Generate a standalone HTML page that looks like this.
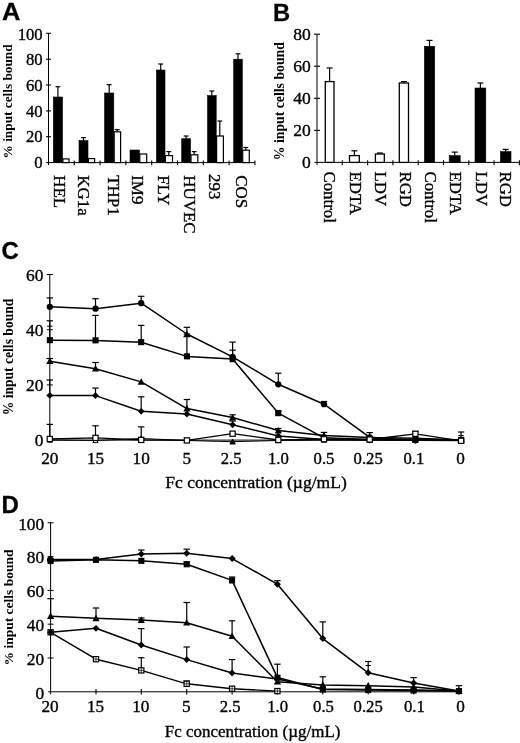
<!DOCTYPE html>
<html><head><meta charset="utf-8"><title>Figure</title>
<style>
html,body{margin:0;padding:0;background:#fff;}
body{width:520px;height:743px;overflow:hidden;font-family:"Liberation Serif",serif;}
svg{display:block;filter:grayscale(1);}
svg text{fill:#000;}
</style></head><body>
<svg width="520" height="743" viewBox="0 0 520 743">
<rect x="0" y="0" width="520" height="743" fill="#fff"/>
<text x="0" y="0" font-family="'Liberation Sans', sans-serif" font-size="24" font-weight="bold" text-anchor="start" transform="translate(2.0 19.8) rotate(0) scale(1.06 1)" stroke="#000" stroke-width="0.3">A</text>
<line x1="48.5" y1="33.4" x2="48.5" y2="165.1" stroke="#000" stroke-width="1.0"/>
<line x1="46.0" y1="162.6" x2="254.8" y2="162.6" stroke="#000" stroke-width="1.0"/>
<text x="0" y="0" font-family="'Liberation Serif', serif" font-size="17.2" font-weight="normal" text-anchor="end" transform="translate(42.7 168.2) rotate(0) scale(0.97 1)" stroke="#000" stroke-width="0.35">0</text>
<line x1="46.0" y1="136.7" x2="51.0" y2="136.7" stroke="#000" stroke-width="1.1"/>
<text x="0" y="0" font-family="'Liberation Serif', serif" font-size="17.2" font-weight="normal" text-anchor="end" transform="translate(42.7 142.3) rotate(0) scale(0.97 1)" stroke="#000" stroke-width="0.35">20</text>
<line x1="46.0" y1="110.9" x2="51.0" y2="110.9" stroke="#000" stroke-width="1.1"/>
<text x="0" y="0" font-family="'Liberation Serif', serif" font-size="17.2" font-weight="normal" text-anchor="end" transform="translate(42.7 116.5) rotate(0) scale(0.97 1)" stroke="#000" stroke-width="0.35">40</text>
<line x1="46.0" y1="85.0" x2="51.0" y2="85.0" stroke="#000" stroke-width="1.1"/>
<text x="0" y="0" font-family="'Liberation Serif', serif" font-size="17.2" font-weight="normal" text-anchor="end" transform="translate(42.7 90.6) rotate(0) scale(0.97 1)" stroke="#000" stroke-width="0.35">60</text>
<line x1="46.0" y1="59.2" x2="51.0" y2="59.2" stroke="#000" stroke-width="1.1"/>
<text x="0" y="0" font-family="'Liberation Serif', serif" font-size="17.2" font-weight="normal" text-anchor="end" transform="translate(42.7 64.8) rotate(0) scale(0.97 1)" stroke="#000" stroke-width="0.35">80</text>
<line x1="46.0" y1="33.3" x2="51.0" y2="33.3" stroke="#000" stroke-width="1.1"/>
<text x="0" y="0" font-family="'Liberation Serif', serif" font-size="17.2" font-weight="normal" text-anchor="end" transform="translate(42.7 39.7) rotate(0) scale(0.97 1)" stroke="#000" stroke-width="0.35">100</text>
<text x="0" y="0" font-family="'Liberation Serif', serif" font-size="12.2" font-weight="bold" text-anchor="middle" transform="translate(11.8 101.4) rotate(-90) scale(1.09 1)">% input cells bound</text>
<line x1="74.3" y1="160.4" x2="74.3" y2="165.2" stroke="#000" stroke-width="1.1"/>
<line x1="100.1" y1="160.4" x2="100.1" y2="165.2" stroke="#000" stroke-width="1.1"/>
<line x1="125.9" y1="160.4" x2="125.9" y2="165.2" stroke="#000" stroke-width="1.1"/>
<line x1="151.7" y1="160.4" x2="151.7" y2="165.2" stroke="#000" stroke-width="1.1"/>
<line x1="177.5" y1="160.4" x2="177.5" y2="165.2" stroke="#000" stroke-width="1.1"/>
<line x1="203.3" y1="160.4" x2="203.3" y2="165.2" stroke="#000" stroke-width="1.1"/>
<line x1="229.1" y1="160.4" x2="229.1" y2="165.2" stroke="#000" stroke-width="1.1"/>
<line x1="254.9" y1="160.4" x2="254.9" y2="165.2" stroke="#000" stroke-width="1.1"/>
<line x1="57.9" y1="97.0" x2="57.9" y2="86.7" stroke="#000" stroke-width="1.2"/>
<line x1="55.5" y1="86.7" x2="60.3" y2="86.7" stroke="#000" stroke-width="1.2"/>
<rect x="53.3" y="97.0" width="9.2" height="65.6" fill="#000" stroke="#000" stroke-width="0.6"/>
<rect x="62.9" y="158.9" width="6.1" height="3.7" fill="#fff" stroke="#000" stroke-width="1.2"/>
<line x1="83.5" y1="140.5" x2="83.5" y2="137.6" stroke="#000" stroke-width="1.2"/>
<line x1="81.1" y1="137.6" x2="85.9" y2="137.6" stroke="#000" stroke-width="1.2"/>
<rect x="79.0" y="140.5" width="9.0" height="22.1" fill="#000" stroke="#000" stroke-width="0.6"/>
<rect x="88.4" y="158.6" width="6.2" height="4.0" fill="#fff" stroke="#000" stroke-width="1.2"/>
<line x1="109.2" y1="93.0" x2="109.2" y2="84.6" stroke="#000" stroke-width="1.2"/>
<line x1="106.8" y1="84.6" x2="111.6" y2="84.6" stroke="#000" stroke-width="1.2"/>
<rect x="104.6" y="93.0" width="9.2" height="69.6" fill="#000" stroke="#000" stroke-width="0.6"/>
<line x1="117.2" y1="131.8" x2="117.2" y2="129.6" stroke="#000" stroke-width="1.2"/>
<line x1="114.8" y1="129.6" x2="119.6" y2="129.6" stroke="#000" stroke-width="1.2"/>
<rect x="114.2" y="131.8" width="6.4" height="30.8" fill="#fff" stroke="#000" stroke-width="1.2"/>
<rect x="130.0" y="150.0" width="9.4" height="12.6" fill="#000" stroke="#000" stroke-width="0.6"/>
<rect x="139.8" y="154.0" width="6.9" height="8.6" fill="#fff" stroke="#000" stroke-width="1.2"/>
<line x1="160.7" y1="70.0" x2="160.7" y2="64.0" stroke="#000" stroke-width="1.2"/>
<line x1="158.3" y1="64.0" x2="163.1" y2="64.0" stroke="#000" stroke-width="1.2"/>
<rect x="156.4" y="70.0" width="8.6" height="92.6" fill="#000" stroke="#000" stroke-width="0.6"/>
<line x1="168.8" y1="155.6" x2="168.8" y2="151.6" stroke="#000" stroke-width="1.2"/>
<line x1="166.3" y1="151.6" x2="171.2" y2="151.6" stroke="#000" stroke-width="1.2"/>
<rect x="165.4" y="155.6" width="7.1" height="7.0" fill="#fff" stroke="#000" stroke-width="1.2"/>
<line x1="186.1" y1="138.7" x2="186.1" y2="136.0" stroke="#000" stroke-width="1.2"/>
<line x1="183.7" y1="136.0" x2="188.5" y2="136.0" stroke="#000" stroke-width="1.2"/>
<rect x="181.7" y="138.7" width="8.9" height="23.9" fill="#000" stroke="#000" stroke-width="0.6"/>
<line x1="194.2" y1="154.8" x2="194.2" y2="151.6" stroke="#000" stroke-width="1.2"/>
<line x1="191.8" y1="151.6" x2="196.6" y2="151.6" stroke="#000" stroke-width="1.2"/>
<rect x="191.0" y="154.8" width="6.8" height="7.8" fill="#fff" stroke="#000" stroke-width="1.2"/>
<line x1="211.8" y1="95.6" x2="211.8" y2="91.0" stroke="#000" stroke-width="1.2"/>
<line x1="209.4" y1="91.0" x2="214.2" y2="91.0" stroke="#000" stroke-width="1.2"/>
<rect x="207.5" y="95.6" width="8.7" height="67.0" fill="#000" stroke="#000" stroke-width="0.6"/>
<line x1="219.8" y1="136.0" x2="219.8" y2="121.0" stroke="#000" stroke-width="1.2"/>
<line x1="217.4" y1="121.0" x2="222.2" y2="121.0" stroke="#000" stroke-width="1.2"/>
<rect x="216.6" y="136.0" width="6.8" height="26.6" fill="#fff" stroke="#000" stroke-width="1.2"/>
<line x1="238.0" y1="59.2" x2="238.0" y2="53.8" stroke="#000" stroke-width="1.2"/>
<line x1="235.6" y1="53.8" x2="240.4" y2="53.8" stroke="#000" stroke-width="1.2"/>
<rect x="233.7" y="59.2" width="8.6" height="103.4" fill="#000" stroke="#000" stroke-width="0.6"/>
<line x1="245.8" y1="150.2" x2="245.8" y2="147.5" stroke="#000" stroke-width="1.2"/>
<line x1="243.4" y1="147.5" x2="248.2" y2="147.5" stroke="#000" stroke-width="1.2"/>
<rect x="242.7" y="150.2" width="6.6" height="12.4" fill="#fff" stroke="#000" stroke-width="1.2"/>
<text x="0" y="0" font-family="'Liberation Serif', serif" font-size="16" font-weight="normal" text-anchor="start" transform="translate(54.0 175.2) rotate(90) scale(1.06 1)" stroke="#000" stroke-width="0.35">HEL</text>
<text x="0" y="0" font-family="'Liberation Serif', serif" font-size="16" font-weight="normal" text-anchor="start" transform="translate(78.0 175.2) rotate(90) scale(1.06 1)" stroke="#000" stroke-width="0.35">KG1a</text>
<text x="0" y="0" font-family="'Liberation Serif', serif" font-size="16" font-weight="normal" text-anchor="start" transform="translate(108.0 175.2) rotate(90) scale(1.06 1)" stroke="#000" stroke-width="0.35">THP1</text>
<text x="0" y="0" font-family="'Liberation Serif', serif" font-size="16" font-weight="normal" text-anchor="start" transform="translate(132.0 175.2) rotate(90) scale(1.06 1)" stroke="#000" stroke-width="0.35">IM9</text>
<text x="0" y="0" font-family="'Liberation Serif', serif" font-size="16" font-weight="normal" text-anchor="start" transform="translate(157.8 175.2) rotate(90) scale(1.06 1)" stroke="#000" stroke-width="0.35">FLY</text>
<text x="0" y="0" font-family="'Liberation Serif', serif" font-size="16" font-weight="normal" text-anchor="start" transform="translate(183.5 175.2) rotate(90) scale(1.06 1)" stroke="#000" stroke-width="0.35">HUVEC</text>
<text x="0" y="0" font-family="'Liberation Serif', serif" font-size="16" font-weight="normal" text-anchor="start" transform="translate(208.8 174.0) rotate(90) scale(1.06 1)" stroke="#000" stroke-width="0.35">293</text>
<text x="0" y="0" font-family="'Liberation Serif', serif" font-size="16" font-weight="normal" text-anchor="start" transform="translate(235.5 175.2) rotate(90) scale(1.06 1)" stroke="#000" stroke-width="0.35">COS</text>
<text x="0" y="0" font-family="'Liberation Sans', sans-serif" font-size="24" font-weight="bold" text-anchor="start" transform="translate(273.0 20.8) rotate(0) scale(0.99 1)" stroke="#000" stroke-width="0.3">B</text>
<line x1="317.0" y1="34.2" x2="317.0" y2="164.9" stroke="#000" stroke-width="1.0"/>
<line x1="314.5" y1="162.4" x2="519.5" y2="162.4" stroke="#000" stroke-width="1.0"/>
<text x="0" y="0" font-family="'Liberation Serif', serif" font-size="17.2" font-weight="normal" text-anchor="end" transform="translate(310.8 168.0) rotate(0) scale(1.02 1)" stroke="#000" stroke-width="0.35">0</text>
<line x1="314.0" y1="130.4" x2="320.0" y2="130.4" stroke="#000" stroke-width="1.1"/>
<text x="0" y="0" font-family="'Liberation Serif', serif" font-size="17.2" font-weight="normal" text-anchor="end" transform="translate(310.8 136.0) rotate(0) scale(1.02 1)" stroke="#000" stroke-width="0.35">20</text>
<line x1="314.0" y1="98.3" x2="320.0" y2="98.3" stroke="#000" stroke-width="1.1"/>
<text x="0" y="0" font-family="'Liberation Serif', serif" font-size="17.2" font-weight="normal" text-anchor="end" transform="translate(310.8 103.9) rotate(0) scale(1.02 1)" stroke="#000" stroke-width="0.35">40</text>
<line x1="314.0" y1="66.2" x2="320.0" y2="66.2" stroke="#000" stroke-width="1.1"/>
<text x="0" y="0" font-family="'Liberation Serif', serif" font-size="17.2" font-weight="normal" text-anchor="end" transform="translate(310.8 71.8) rotate(0) scale(1.02 1)" stroke="#000" stroke-width="0.35">60</text>
<line x1="314.0" y1="34.2" x2="320.0" y2="34.2" stroke="#000" stroke-width="1.1"/>
<text x="0" y="0" font-family="'Liberation Serif', serif" font-size="17.2" font-weight="normal" text-anchor="end" transform="translate(310.8 39.8) rotate(0) scale(1.02 1)" stroke="#000" stroke-width="0.35">80</text>
<text x="0" y="0" font-family="'Liberation Serif', serif" font-size="14" font-weight="bold" text-anchor="middle" transform="translate(283.8 101.2) rotate(-90) scale(0.985 1)">% input cells bound</text>
<line x1="342.3" y1="160.2" x2="342.3" y2="165.2" stroke="#000" stroke-width="1.1"/>
<line x1="367.6" y1="160.2" x2="367.6" y2="165.2" stroke="#000" stroke-width="1.1"/>
<line x1="392.9" y1="160.2" x2="392.9" y2="165.2" stroke="#000" stroke-width="1.1"/>
<line x1="418.2" y1="160.2" x2="418.2" y2="165.2" stroke="#000" stroke-width="1.1"/>
<line x1="443.5" y1="160.2" x2="443.5" y2="165.2" stroke="#000" stroke-width="1.1"/>
<line x1="468.8" y1="160.2" x2="468.8" y2="165.2" stroke="#000" stroke-width="1.1"/>
<line x1="494.1" y1="160.2" x2="494.1" y2="165.2" stroke="#000" stroke-width="1.1"/>
<line x1="519.4" y1="160.2" x2="519.4" y2="165.2" stroke="#000" stroke-width="1.1"/>
<line x1="329.6" y1="81.6" x2="329.6" y2="68.0" stroke="#000" stroke-width="1.2"/>
<line x1="326.6" y1="68.0" x2="332.6" y2="68.0" stroke="#000" stroke-width="1.2"/>
<rect x="325.3" y="81.6" width="8.7" height="80.8" fill="#fff" stroke="#000" stroke-width="1.3"/>
<line x1="354.4" y1="155.6" x2="354.4" y2="150.8" stroke="#000" stroke-width="1.2"/>
<line x1="351.4" y1="150.8" x2="357.4" y2="150.8" stroke="#000" stroke-width="1.2"/>
<rect x="349.5" y="155.6" width="9.8" height="6.8" fill="#fff" stroke="#000" stroke-width="1.3"/>
<line x1="379.9" y1="154.0" x2="379.9" y2="153.0" stroke="#000" stroke-width="1.2"/>
<line x1="376.9" y1="153.0" x2="382.9" y2="153.0" stroke="#000" stroke-width="1.2"/>
<rect x="375.4" y="154.0" width="8.9" height="8.4" fill="#fff" stroke="#000" stroke-width="1.3"/>
<line x1="403.9" y1="83.0" x2="403.9" y2="81.6" stroke="#000" stroke-width="1.2"/>
<line x1="400.9" y1="81.6" x2="406.9" y2="81.6" stroke="#000" stroke-width="1.2"/>
<rect x="399.3" y="83.0" width="9.2" height="79.4" fill="#fff" stroke="#000" stroke-width="1.3"/>
<line x1="429.5" y1="46.3" x2="429.5" y2="40.4" stroke="#000" stroke-width="1.2"/>
<line x1="426.5" y1="40.4" x2="432.5" y2="40.4" stroke="#000" stroke-width="1.2"/>
<rect x="424.4" y="46.3" width="10.3" height="116.1" fill="#000" stroke="#000" stroke-width="0.6"/>
<line x1="454.7" y1="155.6" x2="454.7" y2="152.1" stroke="#000" stroke-width="1.2"/>
<line x1="451.7" y1="152.1" x2="457.7" y2="152.1" stroke="#000" stroke-width="1.2"/>
<rect x="449.2" y="155.6" width="11.0" height="6.8" fill="#000" stroke="#000" stroke-width="0.6"/>
<line x1="480.4" y1="88.0" x2="480.4" y2="83.0" stroke="#000" stroke-width="1.2"/>
<line x1="477.4" y1="83.0" x2="483.4" y2="83.0" stroke="#000" stroke-width="1.2"/>
<rect x="475.0" y="88.0" width="10.8" height="74.4" fill="#000" stroke="#000" stroke-width="0.6"/>
<line x1="505.7" y1="151.6" x2="505.7" y2="149.4" stroke="#000" stroke-width="1.2"/>
<line x1="502.7" y1="149.4" x2="508.7" y2="149.4" stroke="#000" stroke-width="1.2"/>
<rect x="500.4" y="151.6" width="10.6" height="10.8" fill="#000" stroke="#000" stroke-width="0.6"/>
<text x="0" y="0" font-family="'Liberation Serif', serif" font-size="16" font-weight="normal" text-anchor="start" transform="translate(324.3 171.5) rotate(90) scale(1.05 1)" stroke="#000" stroke-width="0.35">Control</text>
<text x="0" y="0" font-family="'Liberation Serif', serif" font-size="16" font-weight="normal" text-anchor="start" transform="translate(350.2 171.5) rotate(90) scale(1.05 1)" stroke="#000" stroke-width="0.35">EDTA</text>
<text x="0" y="0" font-family="'Liberation Serif', serif" font-size="16" font-weight="normal" text-anchor="start" transform="translate(374.8 171.5) rotate(90) scale(1.05 1)" stroke="#000" stroke-width="0.35">LDV</text>
<text x="0" y="0" font-family="'Liberation Serif', serif" font-size="16" font-weight="normal" text-anchor="start" transform="translate(399.8 171.5) rotate(90) scale(1.05 1)" stroke="#000" stroke-width="0.35">RGD</text>
<text x="0" y="0" font-family="'Liberation Serif', serif" font-size="16" font-weight="normal" text-anchor="start" transform="translate(425.2 171.5) rotate(90) scale(1.05 1)" stroke="#000" stroke-width="0.35">Control</text>
<text x="0" y="0" font-family="'Liberation Serif', serif" font-size="16" font-weight="normal" text-anchor="start" transform="translate(449.6 171.5) rotate(90) scale(1.05 1)" stroke="#000" stroke-width="0.35">EDTA</text>
<text x="0" y="0" font-family="'Liberation Serif', serif" font-size="16" font-weight="normal" text-anchor="start" transform="translate(475.6 171.5) rotate(90) scale(1.05 1)" stroke="#000" stroke-width="0.35">LDV</text>
<text x="0" y="0" font-family="'Liberation Serif', serif" font-size="16" font-weight="normal" text-anchor="start" transform="translate(500.2 171.5) rotate(90) scale(1.05 1)" stroke="#000" stroke-width="0.35">RGD</text>
<text x="0" y="0" font-family="'Liberation Sans', sans-serif" font-size="24" font-weight="bold" text-anchor="start" transform="translate(1.6 259.3) rotate(0) scale(1.0 1)" stroke="#000" stroke-width="0.3">C</text>
<line x1="49.8" y1="274.0" x2="49.8" y2="442.6" stroke="#000" stroke-width="1.0"/>
<line x1="47.3" y1="440.1" x2="461.1" y2="440.1" stroke="#000" stroke-width="1.0"/>
<text x="0" y="0" font-family="'Liberation Serif', serif" font-size="17.2" font-weight="normal" text-anchor="end" transform="translate(43.4 446.1) rotate(0) scale(1.01 1)" stroke="#000" stroke-width="0.35">0</text>
<line x1="46.8" y1="384.9" x2="52.8" y2="384.9" stroke="#000" stroke-width="1.0"/>
<text x="0" y="0" font-family="'Liberation Serif', serif" font-size="17.2" font-weight="normal" text-anchor="end" transform="translate(43.4 390.9) rotate(0) scale(1.01 1)" stroke="#000" stroke-width="0.35">20</text>
<line x1="46.8" y1="329.7" x2="52.8" y2="329.7" stroke="#000" stroke-width="1.0"/>
<text x="0" y="0" font-family="'Liberation Serif', serif" font-size="17.2" font-weight="normal" text-anchor="end" transform="translate(43.4 335.7) rotate(0) scale(1.01 1)" stroke="#000" stroke-width="0.35">40</text>
<line x1="46.8" y1="274.5" x2="52.8" y2="274.5" stroke="#000" stroke-width="1.0"/>
<text x="0" y="0" font-family="'Liberation Serif', serif" font-size="17.2" font-weight="normal" text-anchor="end" transform="translate(43.4 280.5) rotate(0) scale(1.01 1)" stroke="#000" stroke-width="0.35">60</text>
<text x="0" y="0" font-family="'Liberation Serif', serif" font-size="13.6" font-weight="bold" text-anchor="middle" transform="translate(13.0 357.0) rotate(-90) scale(1.0 1)">% input cells bound</text>
<text x="0" y="0" font-family="'Liberation Serif', serif" font-size="17.2" font-weight="normal" text-anchor="middle" transform="translate(49.8 463.8) rotate(0) scale(1.0 1)" stroke="#000" stroke-width="0.35">20</text>
<text x="0" y="0" font-family="'Liberation Serif', serif" font-size="17.2" font-weight="normal" text-anchor="middle" transform="translate(95.5 463.8) rotate(0) scale(1.0 1)" stroke="#000" stroke-width="0.35">15</text>
<text x="0" y="0" font-family="'Liberation Serif', serif" font-size="17.2" font-weight="normal" text-anchor="middle" transform="translate(141.2 463.8) rotate(0) scale(1.0 1)" stroke="#000" stroke-width="0.35">10</text>
<text x="0" y="0" font-family="'Liberation Serif', serif" font-size="17.2" font-weight="normal" text-anchor="middle" transform="translate(186.9 463.8) rotate(0) scale(1.0 1)" stroke="#000" stroke-width="0.35">5</text>
<text x="0" y="0" font-family="'Liberation Serif', serif" font-size="17.2" font-weight="normal" text-anchor="middle" transform="translate(231.1 463.8) rotate(0) scale(0.97 1)" stroke="#000" stroke-width="0.35">2.5</text>
<text x="0" y="0" font-family="'Liberation Serif', serif" font-size="17.2" font-weight="normal" text-anchor="middle" transform="translate(278.3 463.8) rotate(0) scale(0.97 1)" stroke="#000" stroke-width="0.35">1.0</text>
<text x="0" y="0" font-family="'Liberation Serif', serif" font-size="17.2" font-weight="normal" text-anchor="middle" transform="translate(324.0 463.8) rotate(0) scale(0.97 1)" stroke="#000" stroke-width="0.35">0.5</text>
<text x="0" y="0" font-family="'Liberation Serif', serif" font-size="17.2" font-weight="normal" text-anchor="middle" transform="translate(368.2 463.8) rotate(0) scale(0.97 1)" stroke="#000" stroke-width="0.35">0.25</text>
<text x="0" y="0" font-family="'Liberation Serif', serif" font-size="17.2" font-weight="normal" text-anchor="middle" transform="translate(413.9 463.8) rotate(0) scale(0.97 1)" stroke="#000" stroke-width="0.35">0.1</text>
<text x="0" y="0" font-family="'Liberation Serif', serif" font-size="17.2" font-weight="normal" text-anchor="middle" transform="translate(460.6 463.8) rotate(0) scale(1.0 1)" stroke="#000" stroke-width="0.35">0</text>
<text x="0" y="0" font-family="'Liberation Serif', serif" font-size="17.2" font-weight="normal" text-anchor="middle" transform="translate(256.0 488.4) rotate(0) scale(1.02 1)" stroke="#000" stroke-width="0.35">Fc concentration (µg/mL)</text>
<polyline points="49.8,440.0 95.5,440.5 141.2,438.5 186.9,440.5 232.6,441.7 278.3,440.5 324.0,440.0 369.7,440.0 415.4,440.0 461.1,440.0" fill="none" stroke="#000" stroke-width="1.0" stroke-linejoin="round"/>
<polygon points="49.8,437.4 52.4,442.1 47.2,442.1" fill="#fff" stroke="#000" stroke-width="1"/>
<polygon points="95.5,437.9 98.1,442.6 92.9,442.6" fill="#fff" stroke="#000" stroke-width="1"/>
<polygon points="141.2,435.9 143.8,440.6 138.6,440.6" fill="#fff" stroke="#000" stroke-width="1"/>
<polygon points="186.9,437.9 189.5,442.6 184.3,442.6" fill="#fff" stroke="#000" stroke-width="1"/>
<polygon points="232.6,439.1 235.2,443.8 230.0,443.8" fill="#fff" stroke="#000" stroke-width="1"/>
<polygon points="278.3,437.9 280.9,442.6 275.7,442.6" fill="#fff" stroke="#000" stroke-width="1"/>
<polygon points="324.0,437.4 326.6,442.1 321.4,442.1" fill="#fff" stroke="#000" stroke-width="1"/>
<polygon points="369.7,437.4 372.3,442.1 367.1,442.1" fill="#fff" stroke="#000" stroke-width="1"/>
<polygon points="415.4,437.4 418.0,442.1 412.8,442.1" fill="#fff" stroke="#000" stroke-width="1"/>
<polygon points="461.1,437.4 463.7,442.1 458.5,442.1" fill="#fff" stroke="#000" stroke-width="1"/>
<polyline points="49.8,395.4 95.5,395.6 141.2,411.3 186.9,414.0 232.6,424.8 278.3,436.0 324.0,439.5 369.7,440.0 415.4,440.0 461.1,440.0" fill="none" stroke="#000" stroke-width="1.5" stroke-linejoin="round"/>
<line x1="49.8" y1="395.4" x2="49.8" y2="380.0" stroke="#000" stroke-width="1.2"/>
<line x1="46.6" y1="380.0" x2="53.0" y2="380.0" stroke="#000" stroke-width="1.2"/>
<line x1="95.5" y1="395.6" x2="95.5" y2="388.1" stroke="#000" stroke-width="1.2"/>
<line x1="92.3" y1="388.1" x2="98.7" y2="388.1" stroke="#000" stroke-width="1.2"/>
<line x1="141.2" y1="411.3" x2="141.2" y2="396.8" stroke="#000" stroke-width="1.2"/>
<line x1="138.0" y1="396.8" x2="144.4" y2="396.8" stroke="#000" stroke-width="1.2"/>
<line x1="232.6" y1="424.8" x2="232.6" y2="421.0" stroke="#000" stroke-width="1.2"/>
<line x1="229.4" y1="421.0" x2="235.8" y2="421.0" stroke="#000" stroke-width="1.2"/>
<polygon points="49.8,392.0 53.2,395.4 49.8,398.8 46.4,395.4" fill="#000"/>
<polygon points="95.5,392.2 98.9,395.6 95.5,399.0 92.1,395.6" fill="#000"/>
<polygon points="141.2,407.9 144.6,411.3 141.2,414.7 137.8,411.3" fill="#000"/>
<polygon points="186.9,410.6 190.3,414.0 186.9,417.4 183.5,414.0" fill="#000"/>
<polygon points="232.6,421.4 236.0,424.8 232.6,428.2 229.2,424.8" fill="#000"/>
<polygon points="278.3,432.6 281.7,436.0 278.3,439.4 274.9,436.0" fill="#000"/>
<polygon points="324.0,436.1 327.4,439.5 324.0,442.9 320.6,439.5" fill="#000"/>
<polygon points="369.7,436.6 373.1,440.0 369.7,443.4 366.3,440.0" fill="#000"/>
<polygon points="415.4,436.6 418.8,440.0 415.4,443.4 412.0,440.0" fill="#000"/>
<polygon points="461.1,436.6 464.5,440.0 461.1,443.4 457.7,440.0" fill="#000"/>
<polyline points="49.8,361.2 95.5,368.7 141.2,381.9 186.9,408.6 232.6,417.5 278.3,430.5 324.0,435.4 369.7,437.5 415.4,438.2 461.1,440.0" fill="none" stroke="#000" stroke-width="1.5" stroke-linejoin="round"/>
<line x1="49.8" y1="361.2" x2="49.8" y2="358.5" stroke="#000" stroke-width="1.2"/>
<line x1="46.6" y1="358.5" x2="53.0" y2="358.5" stroke="#000" stroke-width="1.2"/>
<line x1="95.5" y1="368.7" x2="95.5" y2="362.5" stroke="#000" stroke-width="1.2"/>
<line x1="92.3" y1="362.5" x2="98.7" y2="362.5" stroke="#000" stroke-width="1.2"/>
<line x1="186.9" y1="408.6" x2="186.9" y2="399.5" stroke="#000" stroke-width="1.2"/>
<line x1="183.7" y1="399.5" x2="190.1" y2="399.5" stroke="#000" stroke-width="1.2"/>
<line x1="232.6" y1="417.5" x2="232.6" y2="414.8" stroke="#000" stroke-width="1.2"/>
<line x1="229.4" y1="414.8" x2="235.8" y2="414.8" stroke="#000" stroke-width="1.2"/>
<line x1="278.3" y1="430.5" x2="278.3" y2="428.5" stroke="#000" stroke-width="1.2"/>
<line x1="275.1" y1="428.5" x2="281.5" y2="428.5" stroke="#000" stroke-width="1.2"/>
<line x1="324.0" y1="435.4" x2="324.0" y2="432.4" stroke="#000" stroke-width="1.2"/>
<line x1="320.8" y1="432.4" x2="327.2" y2="432.4" stroke="#000" stroke-width="1.2"/>
<polygon points="49.8,357.6 53.4,364.1 46.2,364.1" fill="#000"/>
<polygon points="95.5,365.1 99.1,371.6 91.9,371.6" fill="#000"/>
<polygon points="141.2,378.3 144.8,384.8 137.6,384.8" fill="#000"/>
<polygon points="186.9,405.0 190.5,411.5 183.3,411.5" fill="#000"/>
<polygon points="232.6,413.9 236.2,420.4 229.0,420.4" fill="#000"/>
<polygon points="278.3,426.9 281.9,433.4 274.7,433.4" fill="#000"/>
<polygon points="324.0,431.8 327.6,438.3 320.4,438.3" fill="#000"/>
<polygon points="369.7,433.9 373.3,440.4 366.1,440.4" fill="#000"/>
<polygon points="415.4,434.6 419.0,441.1 411.8,441.1" fill="#000"/>
<polygon points="461.1,436.4 464.7,442.9 457.5,442.9" fill="#000"/>
<polyline points="49.8,340.2 95.5,340.4 141.2,342.2 186.9,356.4 232.6,359.1 278.3,413.1 324.0,437.8 369.7,439.5 415.4,440.0 461.1,440.0" fill="none" stroke="#000" stroke-width="1.5" stroke-linejoin="round"/>
<line x1="49.8" y1="340.2" x2="49.8" y2="320.8" stroke="#000" stroke-width="1.2"/>
<line x1="46.6" y1="320.8" x2="53.0" y2="320.8" stroke="#000" stroke-width="1.2"/>
<line x1="95.5" y1="340.4" x2="95.5" y2="315.4" stroke="#000" stroke-width="1.2"/>
<line x1="92.3" y1="315.4" x2="98.7" y2="315.4" stroke="#000" stroke-width="1.2"/>
<line x1="141.2" y1="342.2" x2="141.2" y2="325.4" stroke="#000" stroke-width="1.2"/>
<line x1="138.0" y1="325.4" x2="144.4" y2="325.4" stroke="#000" stroke-width="1.2"/>
<line x1="186.9" y1="356.4" x2="186.9" y2="334.0" stroke="#000" stroke-width="1.2"/>
<line x1="183.7" y1="334.0" x2="190.1" y2="334.0" stroke="#000" stroke-width="1.2"/>
<line x1="232.6" y1="359.1" x2="232.6" y2="350.2" stroke="#000" stroke-width="1.2"/>
<line x1="229.4" y1="350.2" x2="235.8" y2="350.2" stroke="#000" stroke-width="1.2"/>
<line x1="278.3" y1="413.1" x2="278.3" y2="411.0" stroke="#000" stroke-width="1.2"/>
<line x1="275.1" y1="411.0" x2="281.5" y2="411.0" stroke="#000" stroke-width="1.2"/>
<rect x="46.8" y="337.1" width="6.1" height="6.1" fill="#000"/>
<rect x="92.5" y="337.3" width="6.1" height="6.1" fill="#000"/>
<rect x="138.1" y="339.1" width="6.1" height="6.1" fill="#000"/>
<rect x="183.9" y="353.3" width="6.1" height="6.1" fill="#000"/>
<rect x="229.6" y="356.1" width="6.1" height="6.1" fill="#000"/>
<rect x="275.2" y="410.1" width="6.1" height="6.1" fill="#000"/>
<rect x="321.0" y="434.8" width="6.1" height="6.1" fill="#000"/>
<rect x="366.7" y="436.4" width="6.1" height="6.1" fill="#000"/>
<rect x="412.4" y="436.9" width="6.1" height="6.1" fill="#000"/>
<rect x="458.1" y="436.9" width="6.1" height="6.1" fill="#000"/>
<polyline points="49.8,306.8 95.5,308.7 141.2,303.2 186.9,334.0 232.6,356.9 278.3,384.3 324.0,404.2 369.7,437.3 415.4,440.3 461.1,440.5" fill="none" stroke="#000" stroke-width="1.5" stroke-linejoin="round"/>
<line x1="49.8" y1="306.8" x2="49.8" y2="297.9" stroke="#000" stroke-width="1.2"/>
<line x1="46.6" y1="297.9" x2="53.0" y2="297.9" stroke="#000" stroke-width="1.2"/>
<line x1="95.5" y1="308.7" x2="95.5" y2="298.7" stroke="#000" stroke-width="1.2"/>
<line x1="92.3" y1="298.7" x2="98.7" y2="298.7" stroke="#000" stroke-width="1.2"/>
<line x1="141.2" y1="303.2" x2="141.2" y2="296.3" stroke="#000" stroke-width="1.2"/>
<line x1="138.0" y1="296.3" x2="144.4" y2="296.3" stroke="#000" stroke-width="1.2"/>
<line x1="186.9" y1="334.0" x2="186.9" y2="327.3" stroke="#000" stroke-width="1.2"/>
<line x1="183.7" y1="327.3" x2="190.1" y2="327.3" stroke="#000" stroke-width="1.2"/>
<line x1="232.6" y1="356.9" x2="232.6" y2="342.1" stroke="#000" stroke-width="1.2"/>
<line x1="229.4" y1="342.1" x2="235.8" y2="342.1" stroke="#000" stroke-width="1.2"/>
<line x1="278.3" y1="384.3" x2="278.3" y2="373.2" stroke="#000" stroke-width="1.2"/>
<line x1="275.1" y1="373.2" x2="281.5" y2="373.2" stroke="#000" stroke-width="1.2"/>
<line x1="324.0" y1="404.2" x2="324.0" y2="401.5" stroke="#000" stroke-width="1.2"/>
<line x1="320.8" y1="401.5" x2="327.2" y2="401.5" stroke="#000" stroke-width="1.2"/>
<line x1="369.7" y1="437.3" x2="369.7" y2="432.6" stroke="#000" stroke-width="1.2"/>
<line x1="366.5" y1="432.6" x2="372.9" y2="432.6" stroke="#000" stroke-width="1.2"/>
<circle cx="49.8" cy="306.8" r="3.15" fill="#000"/>
<circle cx="95.5" cy="308.7" r="3.15" fill="#000"/>
<circle cx="141.2" cy="303.2" r="3.15" fill="#000"/>
<polygon points="186.9,330.6 190.6,337.3 183.2,337.3" fill="#000"/>
<circle cx="232.6" cy="356.9" r="3.15" fill="#000"/>
<circle cx="278.3" cy="384.3" r="3.15" fill="#000"/>
<circle cx="324.0" cy="404.2" r="3.15" fill="#000"/>
<circle cx="369.7" cy="437.3" r="3.15" fill="#000"/>
<circle cx="415.4" cy="440.3" r="3.15" fill="#000"/>
<circle cx="461.1" cy="440.5" r="3.15" fill="#000"/>
<line x1="47.2" y1="326.2" x2="52.4" y2="326.2" stroke="#000" stroke-width="1.1"/>
<polyline points="49.8,439.0 95.5,437.9 141.2,439.9 186.9,440.4 232.6,433.7 278.3,440.0 324.0,439.2 369.7,439.5 415.4,433.8 461.1,440.8" fill="none" stroke="#000" stroke-width="1.3" stroke-linejoin="round"/>
<line x1="49.8" y1="439.0" x2="49.8" y2="424.4" stroke="#000" stroke-width="1.2"/>
<line x1="46.6" y1="424.4" x2="53.0" y2="424.4" stroke="#000" stroke-width="1.2"/>
<line x1="95.5" y1="437.9" x2="95.5" y2="425.8" stroke="#000" stroke-width="1.2"/>
<line x1="92.3" y1="425.8" x2="98.7" y2="425.8" stroke="#000" stroke-width="1.2"/>
<line x1="141.2" y1="439.9" x2="141.2" y2="426.9" stroke="#000" stroke-width="1.2"/>
<line x1="138.0" y1="426.9" x2="144.4" y2="426.9" stroke="#000" stroke-width="1.2"/>
<line x1="415.4" y1="433.8" x2="415.4" y2="431.5" stroke="#000" stroke-width="1.2"/>
<line x1="412.2" y1="431.5" x2="418.6" y2="431.5" stroke="#000" stroke-width="1.2"/>
<line x1="461.1" y1="440.8" x2="461.1" y2="432.0" stroke="#000" stroke-width="1.2"/>
<line x1="457.9" y1="432.0" x2="464.3" y2="432.0" stroke="#000" stroke-width="1.2"/>
<rect x="47.2" y="436.4" width="5.2" height="5.2" fill="#fff" stroke="#000" stroke-width="1.2"/>
<rect x="92.9" y="435.3" width="5.2" height="5.2" fill="#fff" stroke="#000" stroke-width="1.2"/>
<rect x="138.6" y="437.3" width="5.2" height="5.2" fill="#fff" stroke="#000" stroke-width="1.2"/>
<rect x="184.3" y="437.8" width="5.2" height="5.2" fill="#fff" stroke="#000" stroke-width="1.2"/>
<rect x="230.0" y="431.1" width="5.2" height="5.2" fill="#fff" stroke="#000" stroke-width="1.2"/>
<rect x="275.7" y="437.4" width="5.2" height="5.2" fill="#fff" stroke="#000" stroke-width="1.2"/>
<rect x="321.4" y="436.6" width="5.2" height="5.2" fill="#fff" stroke="#000" stroke-width="1.2"/>
<rect x="367.1" y="436.9" width="5.2" height="5.2" fill="#fff" stroke="#000" stroke-width="1.2"/>
<rect x="412.8" y="431.2" width="5.2" height="5.2" fill="#fff" stroke="#000" stroke-width="1.2"/>
<rect x="458.5" y="438.2" width="5.2" height="5.2" fill="#fff" stroke="#000" stroke-width="1.2"/>
<polygon points="232.6,439.0 235.5,444.2 229.7,444.2" fill="#000"/>
<line x1="458.5" y1="435.5" x2="463.7" y2="435.5" stroke="#000" stroke-width="1.1"/>
<text x="0" y="0" font-family="'Liberation Sans', sans-serif" font-size="24" font-weight="bold" text-anchor="start" transform="translate(1.6 513.4) rotate(0) scale(1.0 1)" stroke="#000" stroke-width="0.3">D</text>
<line x1="50.6" y1="522.3" x2="50.6" y2="694.3" stroke="#000" stroke-width="1.0"/>
<line x1="48.1" y1="691.8" x2="458.9" y2="691.8" stroke="#000" stroke-width="1.0"/>
<text x="0" y="0" font-family="'Liberation Serif', serif" font-size="17.2" font-weight="normal" text-anchor="end" transform="translate(44.2 698.6) rotate(0) scale(1.01 1)" stroke="#000" stroke-width="0.35">0</text>
<line x1="47.6" y1="658.0" x2="53.6" y2="658.0" stroke="#000" stroke-width="1.0"/>
<text x="0" y="0" font-family="'Liberation Serif', serif" font-size="17.2" font-weight="normal" text-anchor="end" transform="translate(44.2 664.8) rotate(0) scale(1.01 1)" stroke="#000" stroke-width="0.35">20</text>
<line x1="47.6" y1="624.2" x2="53.6" y2="624.2" stroke="#000" stroke-width="1.0"/>
<text x="0" y="0" font-family="'Liberation Serif', serif" font-size="17.2" font-weight="normal" text-anchor="end" transform="translate(44.2 631.0) rotate(0) scale(1.01 1)" stroke="#000" stroke-width="0.35">40</text>
<line x1="47.6" y1="590.4" x2="53.6" y2="590.4" stroke="#000" stroke-width="1.0"/>
<text x="0" y="0" font-family="'Liberation Serif', serif" font-size="17.2" font-weight="normal" text-anchor="end" transform="translate(44.2 597.2) rotate(0) scale(1.01 1)" stroke="#000" stroke-width="0.35">60</text>
<line x1="47.6" y1="556.6" x2="53.6" y2="556.6" stroke="#000" stroke-width="1.0"/>
<text x="0" y="0" font-family="'Liberation Serif', serif" font-size="17.2" font-weight="normal" text-anchor="end" transform="translate(44.2 563.4) rotate(0) scale(1.01 1)" stroke="#000" stroke-width="0.35">80</text>
<line x1="47.6" y1="522.8" x2="53.6" y2="522.8" stroke="#000" stroke-width="1.0"/>
<text x="0" y="0" font-family="'Liberation Serif', serif" font-size="17.2" font-weight="normal" text-anchor="end" transform="translate(44.2 529.6) rotate(0) scale(1.01 1)" stroke="#000" stroke-width="0.35">100</text>
<line x1="96.0" y1="689.1" x2="96.0" y2="694.5" stroke="#000" stroke-width="1.1"/>
<line x1="141.3" y1="689.1" x2="141.3" y2="694.5" stroke="#000" stroke-width="1.1"/>
<line x1="186.7" y1="689.1" x2="186.7" y2="694.5" stroke="#000" stroke-width="1.1"/>
<line x1="232.1" y1="689.1" x2="232.1" y2="694.5" stroke="#000" stroke-width="1.1"/>
<line x1="277.4" y1="689.1" x2="277.4" y2="694.5" stroke="#000" stroke-width="1.1"/>
<line x1="322.8" y1="689.1" x2="322.8" y2="694.5" stroke="#000" stroke-width="1.1"/>
<line x1="368.2" y1="689.1" x2="368.2" y2="694.5" stroke="#000" stroke-width="1.1"/>
<line x1="413.6" y1="689.1" x2="413.6" y2="694.5" stroke="#000" stroke-width="1.1"/>
<line x1="458.9" y1="689.1" x2="458.9" y2="694.5" stroke="#000" stroke-width="1.1"/>
<text x="0" y="0" font-family="'Liberation Serif', serif" font-size="13.5" font-weight="bold" text-anchor="middle" transform="translate(13.3 607.5) rotate(-90) scale(1.0 1)">% input cells bound</text>
<text x="0" y="0" font-family="'Liberation Serif', serif" font-size="17.2" font-weight="normal" text-anchor="middle" transform="translate(50.1 712.4) rotate(0) scale(1.0 1)" stroke="#000" stroke-width="0.35">20</text>
<text x="0" y="0" font-family="'Liberation Serif', serif" font-size="17.2" font-weight="normal" text-anchor="middle" transform="translate(95.5 712.4) rotate(0) scale(1.0 1)" stroke="#000" stroke-width="0.35">15</text>
<text x="0" y="0" font-family="'Liberation Serif', serif" font-size="17.2" font-weight="normal" text-anchor="middle" transform="translate(140.8 712.4) rotate(0) scale(1.0 1)" stroke="#000" stroke-width="0.35">10</text>
<text x="0" y="0" font-family="'Liberation Serif', serif" font-size="17.2" font-weight="normal" text-anchor="middle" transform="translate(186.2 712.4) rotate(0) scale(1.0 1)" stroke="#000" stroke-width="0.35">5</text>
<text x="0" y="0" font-family="'Liberation Serif', serif" font-size="17.2" font-weight="normal" text-anchor="middle" transform="translate(230.1 712.4) rotate(0) scale(0.97 1)" stroke="#000" stroke-width="0.35">2.5</text>
<text x="0" y="0" font-family="'Liberation Serif', serif" font-size="17.2" font-weight="normal" text-anchor="middle" transform="translate(277.6 712.4) rotate(0) scale(0.97 1)" stroke="#000" stroke-width="0.35">1.0</text>
<text x="0" y="0" font-family="'Liberation Serif', serif" font-size="17.2" font-weight="normal" text-anchor="middle" transform="translate(323.5 712.4) rotate(0) scale(0.97 1)" stroke="#000" stroke-width="0.35">0.5</text>
<text x="0" y="0" font-family="'Liberation Serif', serif" font-size="17.2" font-weight="normal" text-anchor="middle" transform="translate(368.2 712.4) rotate(0) scale(0.97 1)" stroke="#000" stroke-width="0.35">0.25</text>
<text x="0" y="0" font-family="'Liberation Serif', serif" font-size="17.2" font-weight="normal" text-anchor="middle" transform="translate(414.3 712.4) rotate(0) scale(0.97 1)" stroke="#000" stroke-width="0.35">0.1</text>
<text x="0" y="0" font-family="'Liberation Serif', serif" font-size="17.2" font-weight="normal" text-anchor="middle" transform="translate(460.5 712.4) rotate(0) scale(1.0 1)" stroke="#000" stroke-width="0.35">0</text>
<text x="0" y="0" font-family="'Liberation Serif', serif" font-size="17.2" font-weight="normal" text-anchor="middle" transform="translate(252.6 737.3) rotate(0) scale(0.987 1)" stroke="#000" stroke-width="0.35">Fc concentration (µg/mL)</text>
<polyline points="50.6,632.3 96.0,659.2 141.3,670.4 186.7,683.8 232.1,688.7 277.4,691.1" fill="none" stroke="#000" stroke-width="1.4" stroke-linejoin="round"/>
<line x1="141.3" y1="670.4" x2="141.3" y2="657.7" stroke="#000" stroke-width="1.2"/>
<line x1="138.1" y1="657.7" x2="144.5" y2="657.7" stroke="#000" stroke-width="1.2"/>
<line x1="186.7" y1="683.8" x2="186.7" y2="681.0" stroke="#000" stroke-width="1.2"/>
<line x1="183.5" y1="681.0" x2="189.9" y2="681.0" stroke="#000" stroke-width="1.2"/>
<rect x="48.0" y="629.7" width="5.2" height="5.2" fill="#fff" stroke="#000" stroke-width="1.2"/>
<path d="M48.0,632.3H53.2M50.6,629.7V634.9" stroke="#000" stroke-width="0.7" fill="none"/>
<rect x="93.4" y="656.6" width="5.2" height="5.2" fill="#fff" stroke="#000" stroke-width="1.2"/>
<path d="M93.4,659.2H98.6M96.0,656.6V661.8" stroke="#000" stroke-width="0.7" fill="none"/>
<rect x="138.7" y="667.8" width="5.2" height="5.2" fill="#fff" stroke="#000" stroke-width="1.2"/>
<path d="M138.7,670.4H143.9M141.3,667.8V673.0" stroke="#000" stroke-width="0.7" fill="none"/>
<rect x="184.1" y="681.2" width="5.2" height="5.2" fill="#fff" stroke="#000" stroke-width="1.2"/>
<path d="M184.1,683.8H189.3M186.7,681.2V686.4" stroke="#000" stroke-width="0.7" fill="none"/>
<rect x="229.5" y="686.1" width="5.2" height="5.2" fill="#fff" stroke="#000" stroke-width="1.2"/>
<path d="M229.5,688.7H234.7M232.1,686.1V691.3" stroke="#000" stroke-width="0.7" fill="none"/>
<rect x="274.8" y="688.5" width="5.2" height="5.2" fill="#fff" stroke="#000" stroke-width="1.2"/>
<path d="M274.8,691.1H280.1M277.4,688.5V693.7" stroke="#000" stroke-width="0.7" fill="none"/>
<polyline points="50.6,632.3 96.0,628.3 141.3,645.0 186.7,659.6 232.1,673.0 277.4,679.0 322.8,689.0 368.2,689.5 413.6,690.0 458.9,691.0" fill="none" stroke="#000" stroke-width="1.5" stroke-linejoin="round"/>
<line x1="141.3" y1="645.0" x2="141.3" y2="628.6" stroke="#000" stroke-width="1.2"/>
<line x1="138.1" y1="628.6" x2="144.5" y2="628.6" stroke="#000" stroke-width="1.2"/>
<line x1="186.7" y1="659.6" x2="186.7" y2="647.0" stroke="#000" stroke-width="1.2"/>
<line x1="183.5" y1="647.0" x2="189.9" y2="647.0" stroke="#000" stroke-width="1.2"/>
<line x1="232.1" y1="673.0" x2="232.1" y2="659.6" stroke="#000" stroke-width="1.2"/>
<line x1="228.9" y1="659.6" x2="235.3" y2="659.6" stroke="#000" stroke-width="1.2"/>
<polygon points="50.6,628.9 54.0,632.3 50.6,635.7 47.2,632.3" fill="#000"/>
<polygon points="96.0,624.9 99.4,628.3 96.0,631.7 92.6,628.3" fill="#000"/>
<polygon points="141.3,641.6 144.7,645.0 141.3,648.4 137.9,645.0" fill="#000"/>
<polygon points="186.7,656.2 190.1,659.6 186.7,663.0 183.3,659.6" fill="#000"/>
<polygon points="232.1,669.6 235.5,673.0 232.1,676.4 228.7,673.0" fill="#000"/>
<polygon points="277.4,675.6 280.8,679.0 277.4,682.4 274.1,679.0" fill="#000"/>
<polygon points="322.8,685.6 326.2,689.0 322.8,692.4 319.4,689.0" fill="#000"/>
<polygon points="368.2,686.1 371.6,689.5 368.2,692.9 364.8,689.5" fill="#000"/>
<polygon points="413.6,686.6 417.0,690.0 413.6,693.4 410.2,690.0" fill="#000"/>
<polygon points="458.9,687.6 462.3,691.0 458.9,694.4 455.5,691.0" fill="#000"/>
<polyline points="50.6,616.2 96.0,618.3 141.3,620.0 186.7,622.7 232.1,636.2 277.4,681.7 322.8,684.9 368.2,685.7 413.6,687.0 458.9,691.0" fill="none" stroke="#000" stroke-width="1.5" stroke-linejoin="round"/>
<line x1="50.6" y1="616.2" x2="50.6" y2="598.7" stroke="#000" stroke-width="1.2"/>
<line x1="47.4" y1="598.7" x2="53.8" y2="598.7" stroke="#000" stroke-width="1.2"/>
<line x1="96.0" y1="618.3" x2="96.0" y2="608.0" stroke="#000" stroke-width="1.2"/>
<line x1="92.8" y1="608.0" x2="99.2" y2="608.0" stroke="#000" stroke-width="1.2"/>
<line x1="141.3" y1="620.0" x2="141.3" y2="618.0" stroke="#000" stroke-width="1.2"/>
<line x1="138.1" y1="618.0" x2="144.5" y2="618.0" stroke="#000" stroke-width="1.2"/>
<line x1="186.7" y1="622.7" x2="186.7" y2="602.5" stroke="#000" stroke-width="1.2"/>
<line x1="183.5" y1="602.5" x2="189.9" y2="602.5" stroke="#000" stroke-width="1.2"/>
<line x1="232.1" y1="636.2" x2="232.1" y2="620.8" stroke="#000" stroke-width="1.2"/>
<line x1="228.9" y1="620.8" x2="235.3" y2="620.8" stroke="#000" stroke-width="1.2"/>
<line x1="322.8" y1="684.9" x2="322.8" y2="676.8" stroke="#000" stroke-width="1.2"/>
<line x1="319.6" y1="676.8" x2="326.0" y2="676.8" stroke="#000" stroke-width="1.2"/>
<polygon points="50.6,612.6 54.2,619.1 47.0,619.1" fill="#000"/>
<polygon points="96.0,614.7 99.6,621.2 92.4,621.2" fill="#000"/>
<polygon points="141.3,616.4 144.9,622.9 137.7,622.9" fill="#000"/>
<polygon points="186.7,619.1 190.3,625.6 183.1,625.6" fill="#000"/>
<polygon points="232.1,632.6 235.7,639.1 228.5,639.1" fill="#000"/>
<polygon points="277.4,678.1 281.1,684.6 273.8,684.6" fill="#000"/>
<polygon points="322.8,681.3 326.4,687.8 319.2,687.8" fill="#000"/>
<polygon points="368.2,682.1 371.8,688.6 364.6,688.6" fill="#000"/>
<polygon points="413.6,683.4 417.2,689.9 410.0,689.9" fill="#000"/>
<polygon points="458.9,687.4 462.5,693.9 455.3,693.9" fill="#000"/>
<polyline points="50.6,561.0 96.0,559.8 141.3,560.8 186.7,564.3 232.1,580.4 277.4,677.6 322.8,689.5 368.2,690.0 413.6,690.5 458.9,691.0" fill="none" stroke="#000" stroke-width="1.5" stroke-linejoin="round"/>
<line x1="186.7" y1="564.3" x2="186.7" y2="562.0" stroke="#000" stroke-width="1.2"/>
<line x1="183.5" y1="562.0" x2="189.9" y2="562.0" stroke="#000" stroke-width="1.2"/>
<line x1="232.1" y1="580.4" x2="232.1" y2="577.0" stroke="#000" stroke-width="1.2"/>
<line x1="228.9" y1="577.0" x2="235.3" y2="577.0" stroke="#000" stroke-width="1.2"/>
<line x1="277.4" y1="677.6" x2="277.4" y2="664.2" stroke="#000" stroke-width="1.2"/>
<line x1="274.2" y1="664.2" x2="280.6" y2="664.2" stroke="#000" stroke-width="1.2"/>
<rect x="47.6" y="558.0" width="6.1" height="6.1" fill="#000"/>
<rect x="92.9" y="556.8" width="6.1" height="6.1" fill="#000"/>
<rect x="138.3" y="557.8" width="6.1" height="6.1" fill="#000"/>
<rect x="183.7" y="561.2" width="6.1" height="6.1" fill="#000"/>
<rect x="229.0" y="577.4" width="6.1" height="6.1" fill="#000"/>
<rect x="274.4" y="674.6" width="6.1" height="6.1" fill="#000"/>
<rect x="319.8" y="686.5" width="6.1" height="6.1" fill="#000"/>
<rect x="365.1" y="687.0" width="6.1" height="6.1" fill="#000"/>
<rect x="410.5" y="687.5" width="6.1" height="6.1" fill="#000"/>
<rect x="455.9" y="688.0" width="6.1" height="6.1" fill="#000"/>
<polyline points="50.6,559.6 96.0,559.6 141.3,554.0 186.7,553.2 232.1,558.6 277.4,584.2 322.8,638.6 368.2,672.8 413.6,683.0 458.9,691.1" fill="none" stroke="#000" stroke-width="1.5" stroke-linejoin="round"/>
<line x1="141.3" y1="554.0" x2="141.3" y2="550.0" stroke="#000" stroke-width="1.2"/>
<line x1="138.1" y1="550.0" x2="144.5" y2="550.0" stroke="#000" stroke-width="1.2"/>
<line x1="186.7" y1="553.2" x2="186.7" y2="549.2" stroke="#000" stroke-width="1.2"/>
<line x1="183.5" y1="549.2" x2="189.9" y2="549.2" stroke="#000" stroke-width="1.2"/>
<line x1="277.4" y1="584.2" x2="277.4" y2="580.7" stroke="#000" stroke-width="1.2"/>
<line x1="274.2" y1="580.7" x2="280.6" y2="580.7" stroke="#000" stroke-width="1.2"/>
<line x1="322.8" y1="638.6" x2="322.8" y2="621.9" stroke="#000" stroke-width="1.2"/>
<line x1="319.6" y1="621.9" x2="326.0" y2="621.9" stroke="#000" stroke-width="1.2"/>
<line x1="368.2" y1="672.8" x2="368.2" y2="661.5" stroke="#000" stroke-width="1.2"/>
<line x1="365.0" y1="661.5" x2="371.4" y2="661.5" stroke="#000" stroke-width="1.2"/>
<line x1="413.6" y1="683.0" x2="413.6" y2="677.6" stroke="#000" stroke-width="1.2"/>
<line x1="410.4" y1="677.6" x2="416.8" y2="677.6" stroke="#000" stroke-width="1.2"/>
<line x1="458.9" y1="691.1" x2="458.9" y2="685.7" stroke="#000" stroke-width="1.2"/>
<line x1="455.7" y1="685.7" x2="462.1" y2="685.7" stroke="#000" stroke-width="1.2"/>
<polygon points="50.6,556.1 54.1,559.6 50.6,563.1 47.1,559.6" fill="#000"/>
<polygon points="96.0,556.1 99.5,559.6 96.0,563.1 92.5,559.6" fill="#000"/>
<polygon points="141.3,550.5 144.8,554.0 141.3,557.5 137.8,554.0" fill="#000"/>
<polygon points="186.7,549.7 190.2,553.2 186.7,556.7 183.2,553.2" fill="#000"/>
<polygon points="232.1,555.1 235.6,558.6 232.1,562.1 228.6,558.6" fill="#000"/>
<polygon points="277.4,580.7 280.9,584.2 277.4,587.7 273.9,584.2" fill="#000"/>
<polygon points="322.8,635.1 326.3,638.6 322.8,642.1 319.3,638.6" fill="#000"/>
<polygon points="368.2,669.3 371.7,672.8 368.2,676.3 364.7,672.8" fill="#000"/>
<polygon points="413.6,679.5 417.1,683.0 413.6,686.5 410.1,683.0" fill="#000"/>
<polygon points="458.9,687.6 462.4,691.1 458.9,694.6 455.4,691.1" fill="#000"/>
<line x1="365.6" y1="665.5" x2="370.8" y2="665.5" stroke="#000" stroke-width="1.1"/>
<circle cx="50.3" cy="560.0" r="3.3" fill="#000"/>
</svg>
</body></html>
